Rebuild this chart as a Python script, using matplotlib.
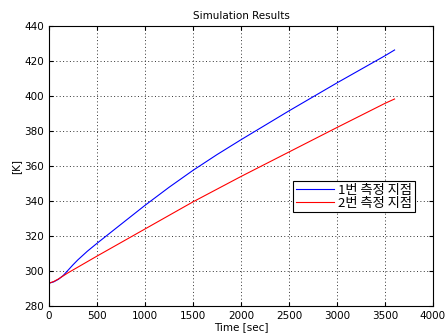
import numpy as np
import matplotlib
matplotlib.use('Agg')
import matplotlib.pyplot as plt

plt.rcParams['font.family'] = ['DejaVu Sans']

# values
time_1 = [0, 50, 100, 150, 200, 250, 300, 400, 500, 700, 1000, 1250, 1500, 1750,
          2000, 2500, 3000, 3500, 3600]
temp_1 = [293, 293.8, 295.3, 297.5, 300.5, 303.5, 306.3, 311.3, 315.8, 324.5, 337.5,
          347.8, 357.5, 366.5, 375, 391.5, 407.5, 423, 426.3]
time_2 = [0, 50, 100, 200, 500, 1000, 1500, 2000, 2500, 3000, 3500, 3600]
temp_2 = [293, 294, 295.5, 299, 308.5, 324, 339.5, 354, 368, 382, 395.8, 398.3]
labels = ['1번 측정 지점', '2번 측정 지점']

fig = plt.figure(figsize=(4.45, 3.36), dpi=100)
ax = fig.add_axes([0.110, 0.0893, 0.863, 0.8333])

ax.plot(time_1, temp_1, color='#0000ff', lw=0.8, label=labels[0])
ax.plot(time_2, temp_2, color='#ff0000', lw=0.8, label=labels[1])

ax.set_xlim(0, 4000)
ax.set_ylim(280, 440)
ax.set_xticks(np.arange(0, 4001, 500))
ax.set_yticks(np.arange(280, 441, 20))
ax.grid(True, color='#333333', linestyle=(0, (1, 2.5)), linewidth=0.7)
ax.tick_params(direction='in', top=True, right=True, labelsize=7.5, length=3)
for s in ax.spines.values():
    s.set_linewidth(0.8)

ax.set_title('Simulation Results', fontsize=7.5, pad=5)
ax.set_xlabel('Time [sec]', fontsize=7.5, labelpad=1)
ax.set_ylabel('[K]', fontsize=7.5, labelpad=2)

leg = ax.legend(loc='upper left', bbox_to_anchor=(293 / 445, 1 - 181 / 336),
                bbox_transform=fig.transFigure,
                prop={'family': ['Noto Sans CJK KR', 'DejaVu Sans'], 'size': 9.5},
                fancybox=False, framealpha=1, edgecolor='black',
                borderpad=0.2, labelspacing=0.0, handlelength=2.9,
                handletextpad=0.3, borderaxespad=0)
leg.get_frame().set_linewidth(0.8)

fig.savefig('out.png', dpi=100)
